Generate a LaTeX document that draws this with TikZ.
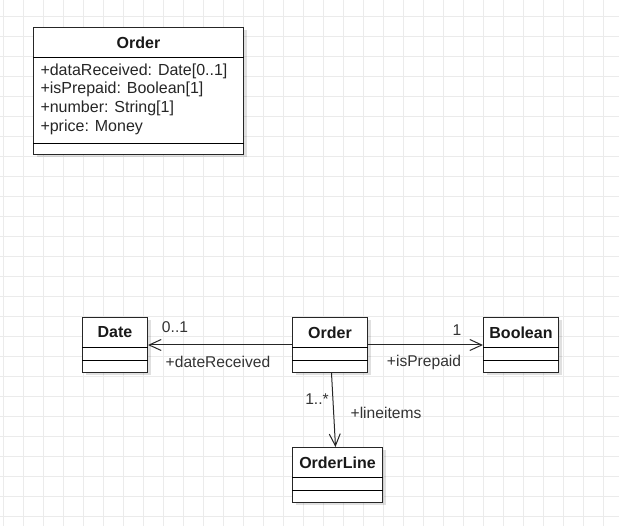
\documentclass[tikz,border=0pt]{standalone}
\usepackage{fontspec}
\setmainfont{Liberation Sans}
\usetikzlibrary{arrows.meta,shadows}

\begin{document}
\begin{tikzpicture}[x=1pt,y=-1pt,line width=1pt,
  cls/.style={draw=black!85,fill=white,anchor=north west,inner sep=0pt,
    drop shadow={shadow xshift=3pt,shadow yshift=-3pt,fill=black,opacity=.12}},
  ttl/.style={font=\fontsize{16}{19}\selectfont\bfseries,text=black!90},
  lbl/.style={font=\fontsize{15.6}{18}\selectfont,text=black!80,inner sep=0pt},
  assoc/.style={-{Straight Barb[length=12pt,width=11pt]},draw=black!85}]
\useasboundingbox (0,0) rectangle (619,526);
\fill[white] (0,0) rectangle (619,526);
% grid
\foreach \gx in {3,23,...,603} \draw[black!8] (\gx,0) -- (\gx,526);
\foreach \gy in {17,37,...,517} \draw[black!8] (0,\gy) -- (619,\gy);

% class with attributes
\node[cls,minimum width=210pt,minimum height=127pt] (order) at (33,27) {};
\node[ttl] (orderttl) at ([yshift=-15.5pt]order.north) {Order};
\draw ([yshift=-31pt]order.north west) -- ([yshift=-31pt]order.north east);
\draw ([yshift=11pt]order.south west) -- ([yshift=11pt]order.south east);
\node[anchor=west,align=left,inner sep=0pt,text=black!85,
  font=\fontsize{16}{18.7}\selectfont] (orderattr) at (40,99)
  {+dataReceived: Date[0..1]\\+isPrepaid: Boolean[1]\\+number: String[1]\\+price: Money};

% small classes
\node[cls,minimum width=65pt,minimum height=55pt] (date) at (82,317) {};
\node[cls,minimum width=75pt,minimum height=55pt] (ord) at (292,317) {};
\node[cls,minimum width=75pt,minimum height=55pt] (bool) at (483,317) {};
\node[cls,minimum width=90pt,minimum height=55pt] (oline) at (292,447) {};
\node[ttl] (datettl) at ([yshift=-15.5pt]date.north) {Date};
\node[ttl] (ordttl) at ([yshift=-15.5pt]ord.north) {Order};
\node[ttl] (boolttl) at ([yshift=-15.5pt]bool.north) {Boolean};
\node[ttl] (olinettl) at ([yshift=-15.5pt]oline.north) {OrderLine};
\foreach \c in {date,ord,bool,oline} {
  \draw ([yshift=-31pt]\c.north west) -- ([yshift=-31pt]\c.north east);
  \draw ([yshift=-44pt]\c.north west) -- ([yshift=-44pt]\c.north east);
}

% associations
\draw[assoc] (ord.west) -- (date.east);
\draw[assoc] (ord.east) -- (bool.west);
\draw[assoc] ([xshift=1.5pt]ord.south) -- ([xshift=-2pt]oline.north);
\node[lbl] (mdate) at (175,327) {0..1};
\node[lbl] (rdate) at (218,362) {+dateReceived};
\node[lbl] (mbool) at (457,330) {1};
\node[lbl] (rbool) at (424,362) {+isPrepaid};
\node[lbl] (mline) at (317,399) {1..*};
\node[lbl] (rline) at (386,413) {+lineitems};
\end{tikzpicture}
\end{document}
